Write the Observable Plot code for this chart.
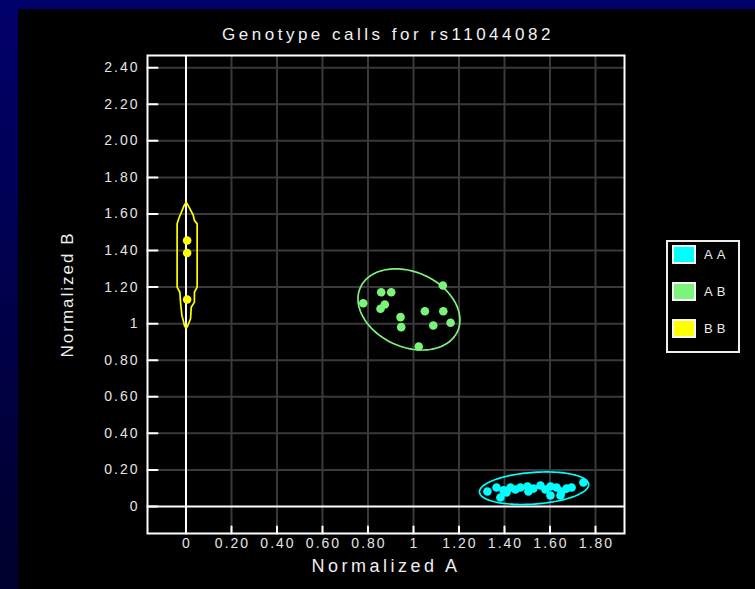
<!DOCTYPE html>
<html>
<head>
<meta charset="utf-8">
<script src="https://cdn.jsdelivr.net/npm/d3@7"></script>
<script src="https://cdn.jsdelivr.net/npm/@observablehq/plot@0.6"></script>
<style>
  body { margin: 0; }
  #page { position: relative; width: 755px; height: 589px; overflow: hidden;
          background: linear-gradient(#00006a, #00002c);
          font-family: "Liberation Sans", Arial, sans-serif; }
  #panel { position: absolute; left: 18px; top: 9px; right: 0; bottom: 0; background: #000; }
  #chart { position: absolute; left: 0; top: 0; }
  #chart svg { display: block; }
  g[aria-label="y-axis tick label"] text,
  g[aria-label="x-axis tick label"] text { letter-spacing: 2px; }
  #legend { position: absolute; left: 666px; top: 240px; width: 70px; height: 109px;
            border: 2px solid #eeeeee; }
  .sw { position: absolute; left: 4px; width: 24px; height: 19px; box-sizing: border-box;
        border: 2px solid #f4f4f4; }
  .lab { position: absolute; left: 36px; height: 19px; line-height: 19px; font-size: 13px;
         color: #ececec; letter-spacing: 4px; }
</style>
</head>
<body>
<div id="page">
  <div id="panel"></div>
  <div id="chart"></div>
  <div id="legend"></div>
</div>
<script>
// Axis ticks and their printed labels
const xTicks = [0, 0.2, 0.4, 0.6, 0.8, 1, 1.2, 1.4, 1.6, 1.8];
const xTickLabels = ["0", "0.20", "0.40", "0.60", "0.80", "1", "1.20", "1.40", "1.60", "1.80"];
const yTicks = [0, 0.2, 0.4, 0.6, 0.8, 1, 1.2, 1.4, 1.6, 1.8, 2.0, 2.2, 2.4];
const yTickLabels = ["0", "0.20", "0.40", "0.60", "0.80", "1", "1.20", "1.40", "1.60", "1.80", "2.00", "2.20", "2.40"];

// Titles
const chartTitle = "Genotype calls for rs11044082";
const xTitle = "Normalized A";
const yTitle = "Normalized B";

// Genotype classes and colours
const genotypes = ["AA", "AB", "BB"];
const genotypeColors = ["#00ffff", "#7cf47c", "#ffff00"];

// Normalized intensities per sample, by genotype call
const aaA = [1.325, 1.365, 1.396, 1.409, 1.382, 1.426, 1.448, 1.470, 1.501, 1.505, 1.527, 1.558, 1.580, 1.602, 1.602, 1.629, 1.646, 1.651, 1.673, 1.695, 1.747];
const aaB = [0.082, 0.104, 0.088, 0.077, 0.049, 0.104, 0.093, 0.104, 0.109, 0.082, 0.098, 0.115, 0.093, 0.109, 0.060, 0.104, 0.060, 0.082, 0.098, 0.104, 0.131];
const abA = [0.858, 0.902, 0.779, 0.874, 0.855, 0.943, 0.946, 1.050, 1.131, 1.087, 1.163, 1.129, 1.023];
const abB = [1.172, 1.172, 1.112, 1.105, 1.082, 1.036, 0.981, 1.068, 1.068, 0.990, 1.005, 1.209, 0.875];
const bbA = [0.005, 0.005, 0.005];
const bbB = [1.455, 1.387, 1.132];

// Cluster outlines: AA and AB as ellipses (centre, spread, correlation)
const ellipseGenotype = ["AA", "AB"];
const ellipseCx = [1.530, 0.980];
const ellipseCy = [0.100, 1.078];
const ellipseSx = [0.240, 0.224];
const ellipseSy = [0.089, 0.222];
const ellipseRho = [0.22, -0.26];

// BB outline: a narrow contour hugging the B axis
const bbOutlineA = [0.001, 0.017, 0.032, 0.037, 0.049, 0.049, 0.037, 0.037, 0.023, 0.020, 0.008, 0.001,
                    -0.007, -0.012, -0.018, -0.024, -0.027, -0.039, -0.039, -0.032, -0.017, -0.008];
const bbOutlineB = [1.665, 1.629, 1.592, 1.565, 1.546, 1.200, 1.172, 1.118, 1.090, 1.027, 0.990, 0.974,
                    0.990, 1.018, 1.045, 1.118, 1.172, 1.200, 1.546, 1.574, 1.619, 1.647];

const colorOf = g => genotypeColors[genotypes.indexOf(g)];

const samples = [
  ...aaA.map((a, i) => ({genotype: "AA", a, b: aaB[i]})),
  ...abA.map((a, i) => ({genotype: "AB", a, b: abB[i]})),
  ...bbA.map((a, i) => ({genotype: "BB", a, b: bbB[i]}))
];

// Trace each ellipse outline from its parameters
const ellipsePoints = [];
ellipseGenotype.forEach((g, k) => {
  const delta = Math.acos(ellipseRho[k]);
  const n = 120;
  for (let j = 0; j < n; ++j) {
    const t = (2 * Math.PI * j) / n;
    ellipsePoints.push({
      genotype: g,
      a: ellipseCx[k] + ellipseSx[k] * Math.cos(t),
      b: ellipseCy[k] + ellipseSy[k] * Math.cos(t - delta)
    });
  }
});
const bbOutline = bbOutlineA.map((a, i) => ({genotype: "BB", a, b: bbOutlineB[i]}));

const tickStub = {draw(context, l) { context.moveTo(0, 0); context.lineTo(0, -l); }};

const chart = Plot.plot({
  width: 755,
  height: 589,
  marginLeft: 147,
  marginRight: 131,
  marginTop: 55,
  marginBottom: 56,
  style: {background: "transparent", color: "#e4e4e4", fontFamily: "'Liberation Sans', Arial, sans-serif", fontSize: "14px"},
  x: {domain: [-0.1692, 1.9275], axis: null},
  y: {domain: [-0.1477, 2.467], axis: null},
  marks: [
    Plot.ruleX(xTicks.filter(d => d !== 0), {stroke: "#3a3a3a", strokeWidth: 2}),
    Plot.ruleY(yTicks.filter(d => d !== 0), {stroke: "#3a3a3a", strokeWidth: 2}),
    Plot.ruleX([0], {stroke: "#ffffff", strokeWidth: 2}),
    Plot.ruleY([0], {stroke: "#ffffff", strokeWidth: 2}),
    Plot.line(ellipsePoints, {x: "a", y: "b", z: "genotype", stroke: d => colorOf(d.genotype), curve: "linear-closed", strokeWidth: 1.7}),
    Plot.line(bbOutline, {x: "a", y: "b", stroke: colorOf("BB"), curve: "linear-closed", strokeWidth: 1.7}),
    Plot.dot(samples, {x: "a", y: "b", r: 4.3, fill: d => colorOf(d.genotype), stroke: null}),
    Plot.frame({stroke: "#ffffff", strokeWidth: 2}),
    Plot.vector(yTicks, {y: d => d, frameAnchor: "left", length: 10, rotate: 90, anchor: "start", shape: tickStub, stroke: "#ffffff", strokeWidth: 2}),
    Plot.vector(xTicks, {x: d => d, frameAnchor: "bottom", length: 7, rotate: 0, anchor: "start", shape: tickStub, stroke: "#ffffff", strokeWidth: 2}),
    Plot.axisY(yTicks, {anchor: "left", tickSize: 0, tickPadding: 8, tickFormat: d => yTickLabels[yTicks.indexOf(d)], label: null}),
    Plot.axisX(xTicks, {anchor: "bottom", tickSize: 0, tickPadding: 5, dx: 1, tickFormat: d => xTickLabels[xTicks.indexOf(d)], label: null}),
    Plot.text([chartTitle], {text: d => d, frameAnchor: "top", lineAnchor: "middle", textAnchor: "middle", dy: -21, dx: 2, fontSize: 17, fill: "#f2f2f2"}),
    Plot.text([xTitle], {text: d => d, frameAnchor: "bottom", lineAnchor: "middle", textAnchor: "middle", dy: 33, dx: 0, fontSize: 18, fill: "#eeeeee"}),
    Plot.text([yTitle], {text: d => d, frameAnchor: "left", lineAnchor: "middle", textAnchor: "middle", dx: -80, rotate: -90, fontSize: 17, fill: "#eeeeee"})
  ]
});
document.getElementById("chart").appendChild(chart);

// Widen the tracking of the title lines
const spacing = new Map([[chartTitle, "3.5px"], [xTitle, "3.5px"], [yTitle, "2px"]]);
d3.select(chart).selectAll("text").each(function () {
  const s = spacing.get(this.textContent);
  if (s) this.style.letterSpacing = s;
});

// Legend: one swatch per genotype
const legend = document.getElementById("legend");
const rowTops = [3, 40, 77];
genotypes.forEach((g, i) => {
  const sw = document.createElement("div");
  sw.className = "sw";
  sw.style.top = rowTops[i] + "px";
  sw.style.background = genotypeColors[i];
  legend.appendChild(sw);
  const lab = document.createElement("div");
  lab.className = "lab";
  lab.style.top = rowTops[i] + "px";
  lab.textContent = g;
  legend.appendChild(lab);
});
</script>
</body>
</html>
